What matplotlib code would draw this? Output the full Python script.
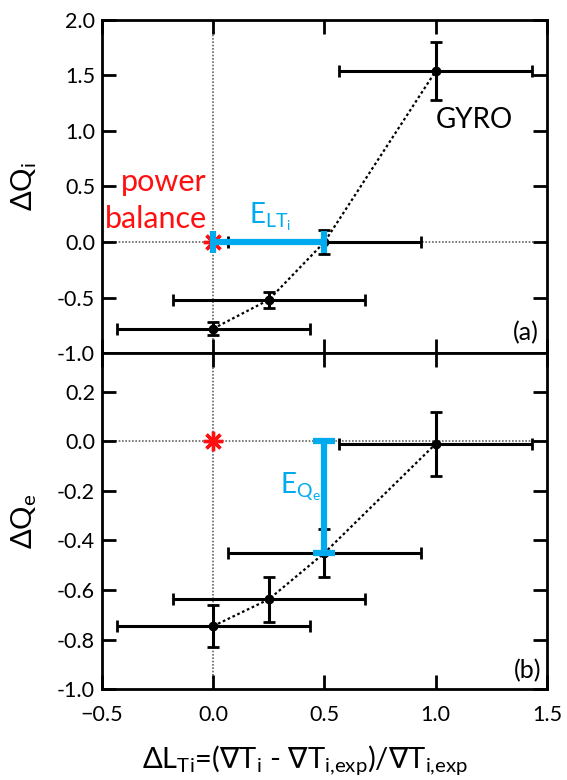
import matplotlib
matplotlib.use("Agg")
import matplotlib.pyplot as plt

# GYRO flux-matching scan: change in ion / electron heat flux vs. change in
# the ion temperature gradient scale length
dlt = [0.0, 0.25, 0.5, 1.0]
dlt_err = [0.433, 0.433, 0.433, 0.433]
dqi = [-0.78, -0.52, 0.0, 1.54]
dqi_err = [0.055, 0.07, 0.11, 0.26]
dqe = [-0.745, -0.637, -0.45, -0.01]
dqe_err = [0.083, 0.09, 0.097, 0.128]

# power balance reference point and the derived uncertainties
pb_x, pb_y = 0.0, 0.0
e_lti = 0.5
e_qe = -0.45

xticks = [-0.5, 0.0, 0.5, 1.0, 1.5]
yticks_a = [-1.0, -0.5, 0.0, 0.5, 1.0, 1.5, 2.0]
yticks_b = [-1.0, -0.8, -0.6, -0.4, -0.2, 0.0, 0.2]

BLUE = "#00aaef"
RED = "#ff1010"
GREY = "#666666"
FONT = ["Lato", "DejaVu Sans"]

plt.rcParams.update({
    "font.family": FONT,
    "mathtext.fontset": "custom",
    "mathtext.rm": "Lato",
    "mathtext.it": "Lato",
    "mathtext.bf": "Lato:bold",
    "mathtext.sf": "DejaVu Sans",
    "mathtext.fallback": "stixsans",
    "axes.linewidth": 2.0,
})

fig = plt.figure(figsize=(5.67, 7.8), dpi=100)
ax_a = fig.add_axes([0.1799, 0.5474, 0.7848, 0.4270])
ax_b = fig.add_axes([0.1799, 0.1163, 0.7848, 0.4311], sharex=ax_a)


def style(ax, yticks, ylim):
    ax.set_xlim(-0.5, 1.5)
    ax.set_ylim(*ylim)
    ax.set_xticks(xticks)
    ax.set_yticks(yticks)
    ax.set_yticklabels([f"{v:.1f}" for v in yticks])
    ax.tick_params(direction="in", length=10, width=2.0, labelsize=15.5,
                   top=True, right=True, pad=5)
    ax.tick_params(axis="x", pad=11)
    ax.axhline(0, color=GREY, lw=1.2, ls=(0, (1, 1)), zorder=1)
    ax.axvline(0, color=GREY, lw=1.2, ls=(0, (1, 1)), zorder=1)
    ax.yaxis.set_label_coords(-0.142, 0.5)


def draw_points(ax, y, yerr):
    ax.plot(dlt, y, color="black", lw=1.6, ls=(0, (1.2, 1.2)), zorder=2)
    ax.errorbar(dlt, y, xerr=dlt_err, yerr=yerr, fmt="o", color="black",
                ms=6, elinewidth=2.2, capsize=4.3, capthick=2.0, zorder=3)


def power_balance(ax):
    ax.plot([pb_x], [pb_y], marker=(8, 2, 0), ms=14, mew=2.4, color=RED,
            zorder=4)


# (a) ion heat flux
style(ax_a, yticks_a, (-1.0, 2.0))
draw_points(ax_a, dqi, dqi_err)
power_balance(ax_a)
ax_a.plot([pb_x, pb_x + e_lti], [pb_y, pb_y], color=BLUE, lw=4.5,
          solid_capstyle="butt", zorder=5)
ax_a.plot([pb_x, pb_x + e_lti], [pb_y, pb_y], ls="none", marker="|",
          ms=16, mew=4.5, color=BLUE, zorder=5)
ax_a.tick_params(labelbottom=False)
ax_a.set_ylabel(r"$\Delta$Q$_\mathrm{i}$", fontsize=21)
ax_a.text(1.0, 1.03, "GYRO", fontsize=20, ha="left", va="baseline")
ax_a.text(-0.029, 0.457, "power", color=RED, fontsize=22, ha="right",
          va="baseline")
ax_a.text(-0.029, 0.126, "balance", color=RED, fontsize=22, ha="right",
          va="baseline")
ax_a.text(0.16, 0.171, r"E$_{\mathrm{LT}_\mathrm{i}}$", color=BLUE,
          fontsize=20, ha="left", va="baseline")
ax_a.text(1.465, -0.885, "(a)", fontsize=18, ha="right", va="baseline")

# (b) electron heat flux
style(ax_b, yticks_b, (-1.0, 0.356))
draw_points(ax_b, dqe, dqe_err)
power_balance(ax_b)
ax_b.plot([pb_x + e_lti] * 2, [pb_y, e_qe], color=BLUE, lw=4.5,
          solid_capstyle="butt", zorder=5)
ax_b.plot([pb_x + e_lti] * 2, [pb_y, e_qe], ls="none", marker="_",
          ms=16, mew=4.5, color=BLUE, zorder=5)
ax_b.set_ylabel(r"$\Delta$Q$_\mathrm{e}$", fontsize=21)
ax_b.text(0.30, -0.21, r"E$_{\mathrm{Q}_\mathrm{e}}$", color=BLUE,
          fontsize=20, ha="left", va="baseline")
ax_b.text(1.476, -0.955, "(b)", fontsize=18, ha="right", va="baseline")
ax_b.set_xlabel(r"$\Delta$L$_\mathrm{Ti}$=($\mathsf{\nabla}$T$_\mathrm{i}$ - "
                r"$\mathsf{\nabla}$T$_\mathrm{i{,}exp}$)/"
                r"$\mathsf{\nabla}$T$_\mathrm{i{,}exp}$",
                fontsize=21, ha="left", va="baseline")
ax_b.xaxis.set_label_coords(0.089, -0.234)

fig.savefig("out.png", dpi=100)
